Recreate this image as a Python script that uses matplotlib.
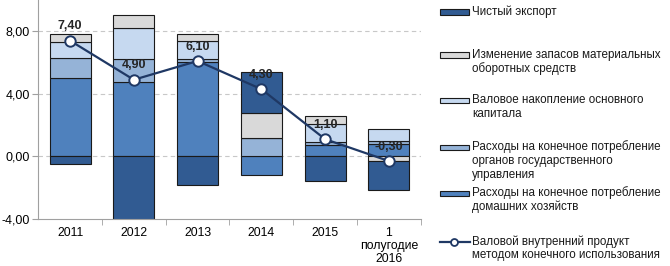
import numpy as np
import matplotlib
matplotlib.use("Agg")
import matplotlib.pyplot as plt
from matplotlib.patches import Rectangle
from matplotlib.lines import Line2D

plt.rcParams['font.family'] = ['Liberation Sans', 'DejaVu Sans']

# данные
years = ['2011', '2012', '2013', '2014', '2015', '1\nполугодие\n2016']
household = [5.0, 4.75, 6.05, -1.2, 0.75, 0.8]
government = [1.3, 1.5, 0.15, 1.15, 0.15, 0.17]
capital = [1.0, 1.97, 1.15, 0.0, 1.15, 0.8]
inventory = [0.5, 0.83, 0.45, 1.65, 0.55, -0.3]
net_export = [-0.5, -4.15, -1.85, 2.6, -1.55, -1.85]
gdp = [7.4, 4.9, 6.1, 4.3, 1.1, -0.3]
gdp_labels = ['7,40', '4,90', '6,10', '4,30', '1,10', '-0,30']

series = [household, government, capital, inventory, net_export]
colors = ['#4f81bd', '#95b3d7', '#c6d9f0', '#d9d9d9', '#315b92']
names = ['Расходы на конечное потребление\nдомашних хозяйств',
         'Расходы на конечное потребление\nорганов государственного\nуправления',
         'Валовое накопление основного\nкапитала',
         'Изменение запасов материальных\nоборотных средств',
         'Чистый экспорт']
line_name = 'Валовой внутренний продукт\nметодом конечного использования'
line_color = '#1f3864'

fig = plt.figure(figsize=(6.7, 2.66), dpi=100)
ax = fig.add_axes([0.057, 0.177, 0.571, 0.823])

x = np.arange(len(years))
pos = np.zeros(len(years))
neg = np.zeros(len(years))
for vals, c in zip(series, colors):
    v = np.array(vals)
    bottom = np.where(v >= 0, pos, neg)
    ax.bar(x, v, 0.645, bottom=bottom, color=c, edgecolor='#1a1a1a',
           linewidth=0.8, zorder=2)
    pos = pos + np.where(v > 0, v, 0)
    neg = neg + np.where(v < 0, v, 0)

ax.plot(x, gdp, color=line_color, lw=1.6, marker='o', ms=7.5,
        mfc='white', mec=line_color, mew=1.4, zorder=4)
for xi, yi, lab in zip(x, gdp, gdp_labels):
    ax.annotate(lab, (xi, yi), xytext=(0, 6), textcoords='offset points',
                ha='center', va='bottom', fontsize=9, fontweight='bold',
                color='#262626', zorder=5)

ax.set_ylim(-4, 10)
ax.set_xlim(-0.5, len(years) - 0.5)
ax.set_yticks([-4, 0, 4, 8])
ax.set_yticklabels(['-4,00', '0,00', '4,00', '8,00'])
ax.set_xticks(x)
ax.set_xticklabels(years, fontsize=8.8, linespacing=1.1)
ax.set_xticks(np.arange(len(years)) + 0.5, minor=True)
ax.tick_params(axis='x', which='major', length=0, pad=6)
ax.tick_params(axis='x', which='minor', length=4, color='#a0a0a0')
ax.tick_params(axis='y', length=4, color='#a0a0a0', labelsize=9, pad=2)
for yv in [0, 4, 8]:
    ax.axhline(yv, color='#c8c8c8', lw=0.8, ls=(0, (4, 3)), zorder=1)
for s in ['top', 'right']:
    ax.spines[s].set_visible(False)
for s in ['left', 'bottom']:
    ax.spines[s].set_color('#a0a0a0')

# легенда
W, H = 670.0, 266.0
fs = 8.4
rows = [(12, 4, [12]), (55, 3, [55, 69]), (100, 2, [100, 114]),
        (147, 1, [147, 161, 175]), (193, 0, [193, 207])]
for hy, idx, ty in rows:
    fig.patches.append(Rectangle((440 / W, 1 - (hy + 2.5) / H), 29 / W, 5 / H,
                                 transform=fig.transFigure, facecolor=colors[idx],
                                 edgecolor='#1a1a1a', lw=0.8))
    for t, yy in zip(names[idx].split('\n'), ty):
        fig.text(472 / W, 1 - yy / H, t, fontsize=fs, va='center', ha='left',
                 color='#1a1a1a')
fig.lines.append(Line2D([440 / W, 470 / W], [1 - 242 / H, 1 - 242 / H],
                        transform=fig.transFigure, color=line_color, lw=1.6))
fig.lines.append(Line2D([454 / W], [1 - 242 / H], transform=fig.transFigure,
                        marker='o', ms=5, mfc='white', mec=line_color, mew=1.3))
for t, yy in zip(line_name.split('\n'), [242, 255]):
    fig.text(472 / W, 1 - yy / H, t, fontsize=fs, va='center', ha='left',
             color='#1a1a1a')

fig.savefig('out.png', dpi=100)
